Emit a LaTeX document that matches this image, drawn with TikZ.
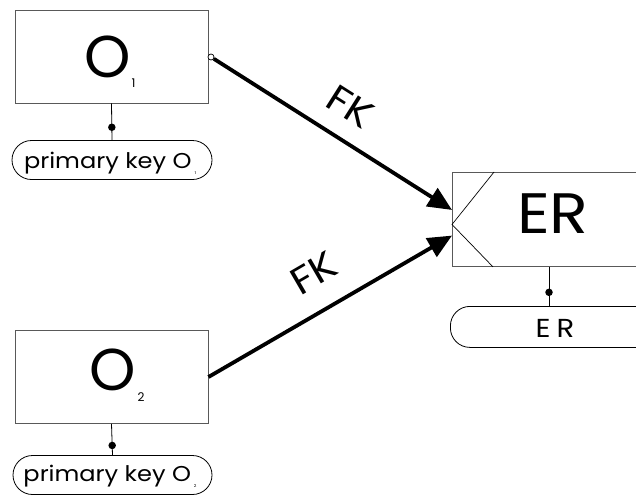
\documentclass[tikz,border=0pt]{standalone}
\usepackage{fontspec}
\setmainfont{Poppins}[FakeStretch=1.12]
\newfontfamily\roundfont{Poppins}
\usetikzlibrary{arrows.meta,calc}

\tikzset{
  entity/.style={draw=black!65, line width=0.9pt, minimum width=193pt,
    minimum height=93pt, inner sep=0pt},
  keyoval/.style={draw, line width=0.8pt, rounded corners=19.5pt,
    minimum height=39pt, inner sep=0pt},
  keyline/.style={line width=0.8pt},
  keydot/.style={circle, fill, inner sep=0pt, minimum size=7.5pt},
  opendot/.style={circle, draw, fill=white, line width=0.7pt, inner sep=0pt, minimum size=6pt},
  fk/.style={line width=3.8pt, -{Triangle[length=24pt,width=21pt]}},
  fklabel/.style={font=\fontsize{38}{38}\selectfont, sloped, inner sep=0pt},
  bigname/.style={anchor=base west, inner sep=0pt, font=\roundfont\fontsize{59}{59}\selectfont},
  keytext/.style={anchor=base, inner sep=0pt, font=\fontsize{21.5}{21.5}\selectfont},
}

\begin{document}
\begin{tikzpicture}[x=1pt, y=-1pt]
\useasboundingbox (0,0) rectangle (636,496);
\clip (0,0) rectangle (636,496);

% entity O1 and its key
\node[entity] (o1) at (111.5,56.5) {};
\node[bigname] (o1t) at (84,77) {O\hspace{1pt}\raisebox{-10pt}{\fontsize{12}{12}\selectfont 1}};
\node[keyoval, minimum width=200pt] (k1) at (112,160) {};
\node[keytext] (k1t) at (110,168) {primary key O\hspace{3pt}\raisebox{-6pt}{\fontsize{4}{4}\selectfont 1}};
\draw[keyline] (o1.south) -- (k1.north) node[keydot, pos=0.65] (d1) {};

% entity O2 and its key
\node[entity] (o2) at (111.5,377) {};
\node[bigname] (o2t) at (89,390) {O\hspace{2pt}\raisebox{-11pt}{\fontsize{12}{12}\selectfont 2}};
\node[keyoval, minimum width=199pt] (k2) at (112.5,475) {};
\node[keytext] (k2t) at (110,481) {primary key O\hspace{3pt}\raisebox{-6pt}{\fontsize{4}{4}\selectfont 2}};
\draw[keyline] (o2.south) -- (k2.north) node[keydot, pos=0.69] (d2) {};

% relationship entity ER
\node[entity, minimum width=210pt, minimum height=94pt, anchor=north west] (er) at (452,172) {};
\draw[line width=0.7pt] ($(er.north west)+(42,0)$)
  -- ($(er.north west)!0.553!(er.south west)$)
  -- ($(er.south west)+(41,0)$);
\node[anchor=base, inner sep=0pt, font=\fontsize{57}{57}\selectfont] (ert) at (553,233) {ER};
\node[keyoval, minimum width=240pt, minimum height=41pt, anchor=north west] (erk) at (450,306) {};
\node[keytext, font=\fontsize{26}{26}\selectfont] (erkt) at (555,337) {E\hspace{6pt}R};
\draw[keyline] ([xshift=97pt]er.south west) -- ([xshift=99pt]erk.north west)
  node[keydot, pos=0.65] (d3) {};

% foreign key connectors
\node[opendot] (c1) at (211,57) {};
\coordinate (t1) at ($(er.north west)!0.40!(er.south west)$);
\coordinate (t2) at ($(er.north west)!0.67!(er.south west)$);
\draw[fk] (c1) -- (t1) node[fklabel, pos=0.5, yshift=33pt] (fk1) {FK};
\draw[fk] (o2.east) -- (t2) node[fklabel, pos=0.51, yshift=37pt] (fk2) {FK};
\end{tikzpicture}
\end{document}
